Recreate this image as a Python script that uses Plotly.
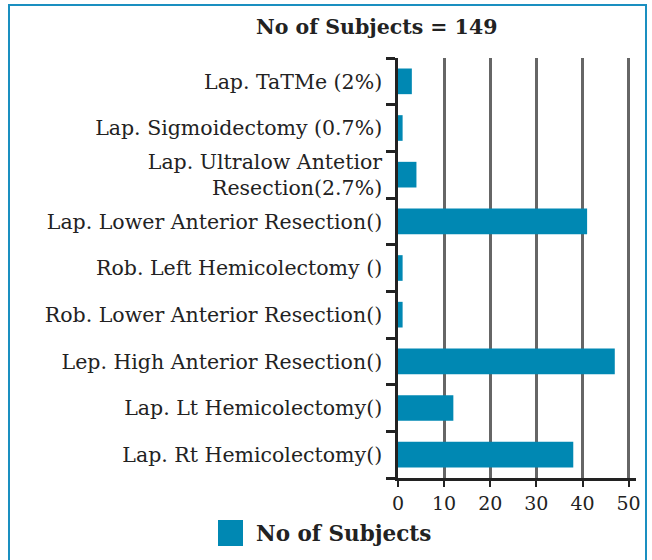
import plotly.graph_objects as go

categories = [
    "Lap. Rt Hemicolectomy()",
    "Lap. Lt Hemicolectomy()",
    "Lep. High Anterior Resection()",
    "Rob. Lower Anterior Resection()",
    "Rob. Left Hemicolectomy ()",
    "Lap. Lower Anterior Resection()",
    "Lap. Ultralow Antetior<br>Resection(2.7%)",
    "Lap. Sigmoidectomy (0.7%)",
    "Lap. TaTMe (2%)",
]
values = [38, 12, 47, 1, 1, 41, 4, 1, 3]
series_name = "No of Subjects"
title_text = "No of Subjects = 149"
x_ticks = [0, 10, 20, 30, 40, 50]

BAR = "#0088b3"
FONT = "DejaVu Serif"

W, H = 652, 560
L, R, T, B = 398, 16, 58, 82
pw, ph = W - L - R, H - T - B

def px(x):
    return (x - L) / pw

def py(y):
    return (H - B - y) / ph

fig = go.Figure(go.Bar(
    y=categories, x=values, orientation="h", name=series_name,
    marker=dict(color=BAR, line=dict(width=0)), width=0.55, showlegend=False,
))

fig.update_layout(
    width=W, height=H,
    margin=dict(l=L, r=R, t=T, b=B),
    paper_bgcolor="white", plot_bgcolor="white",
    font=dict(family=FONT, size=20, color="#222"),
    xaxis=dict(range=[0, 51.6], tickvals=x_ticks, showgrid=True, gridcolor="#666",
               gridwidth=2.5, showline=True, linecolor="#222", linewidth=2.5,
               ticks="outside", ticklen=6, tickwidth=2, tickcolor="#222",
               zeroline=False, tickfont=dict(size=19)),
    yaxis=dict(showline=True, linecolor="#222", linewidth=2.5, ticks="outside",
               tickson="boundaries", ticklen=9, tickwidth=2.5, tickcolor="#222",
               showgrid=False, ticklabelstandoff=9, tickfont=dict(size=20.5)),
    bargap=0.45,
    shapes=[
        dict(type="rect", xref="paper", yref="paper",
             x0=px(9), x1=px(646), y0=py(565), y1=py(5),
             line=dict(color="#1a8fc0", width=2), fillcolor="rgba(0,0,0,0)", layer="below"),
        dict(type="rect", xref="paper", yref="paper",
             x0=px(218), x1=px(243), y0=py(546), y1=py(520),
             line=dict(width=0), fillcolor=BAR),
    ],
    annotations=[
        dict(text="<b>" + title_text + "</b>", xref="paper", yref="paper",
             x=px(376), y=py(27), xanchor="center", yanchor="middle",
             showarrow=False, font=dict(size=20.5, color="#222")),
        dict(text="<b>" + series_name + "</b>", xref="paper", yref="paper",
             x=px(254), y=py(533), xanchor="left", yanchor="middle",
             showarrow=False, font=dict(size=21.5, color="#222")),
    ],
)

fig.write_html("out.html", config={"displayModeBar": False},
               post_script="document.body.style.margin='0';")
